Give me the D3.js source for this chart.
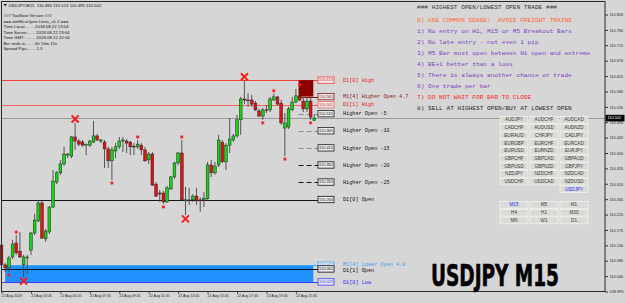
<!DOCTYPE html>
<html><head><meta charset="utf-8">
<script src="https://cdn.jsdelivr.net/npm/d3@7"></script>
<style>
html,body{margin:0;padding:0;background:#d6d6d6;}
svg{display:block;}
</style></head><body>
<svg id="chart" width="625" height="303"></svg>
<script>
// ---------------- DATA ----------------
const titleText = "USDJPY,M15  110.495 110.513 110.495 110.502";
const opens  = [110.131,110.073,110.064,110.096,110.137,110.113,110.073,110.093,110.116,110.166,
                110.201,110.254,110.149,110.169,110.242,110.315,110.342,110.368,110.394,110.391,
                110.447,110.435,110.432,110.423,110.423,110.432,110.450,110.435,110.432,110.412,
                110.377,110.406,110.418,110.435,110.435,110.432,110.420,110.418,110.423,110.409,
                110.380,110.397,110.309,110.283,110.283,110.257,110.295,110.330,110.371,110.400,
                110.260,110.263,110.263,110.274,110.263,110.263,110.266,110.365,110.342,110.365,
                110.432,110.374,110.423,110.438,110.450,110.497,110.558,110.555,110.555,110.546,
                110.523,110.508,110.526,110.526,110.555,110.564,110.546,110.473,110.476,110.526,
                110.549,110.567,110.552,110.529,110.552,110.495];
const highs  = [110.146,110.078,110.099,110.146,110.160,110.169,110.102,110.102,110.169,110.222,
                110.263,110.260,110.178,110.245,110.350,110.347,110.380,110.418,110.400,110.450,
                110.488,110.441,110.438,110.426,110.438,110.494,110.456,110.441,110.438,110.418,
                110.418,110.429,110.447,110.447,110.441,110.435,110.429,110.438,110.429,110.418,
                110.403,110.403,110.315,110.292,110.289,110.304,110.333,110.374,110.403,110.438,
                110.301,110.298,110.280,110.298,110.271,110.286,110.374,110.380,110.374,110.453,
                110.438,110.429,110.502,110.456,110.511,110.564,110.611,110.575,110.570,110.552,
                110.529,110.532,110.540,110.564,110.573,110.567,110.555,110.517,110.535,110.564,
                110.587,110.590,110.564,110.561,110.561,110.513];
const lows   = [110.070,110.052,110.052,110.090,110.102,110.093,110.037,110.046,110.102,110.160,
                110.198,110.149,110.140,110.163,110.239,110.309,110.336,110.362,110.385,110.385,
                110.409,110.420,110.418,110.394,110.418,110.429,110.435,110.429,110.356,110.356,
                110.321,110.385,110.412,110.403,110.400,110.394,110.394,110.412,110.394,110.374,
                110.368,110.304,110.271,110.257,110.251,110.254,110.292,110.324,110.365,110.260,
                110.219,110.248,110.257,110.248,110.228,110.242,110.263,110.330,110.336,110.359,
                110.371,110.350,110.400,110.432,110.444,110.453,110.543,110.535,110.535,110.523,
                110.505,110.497,110.517,110.520,110.552,110.540,110.482,110.391,110.470,110.523,
                110.546,110.552,110.520,110.520,110.497,110.495];
const closes = [110.073,110.064,110.093,110.134,110.108,110.096,110.096,110.096,110.166,110.204,
                110.254,110.151,110.172,110.242,110.318,110.342,110.368,110.397,110.397,110.447,
                110.435,110.426,110.423,110.426,110.435,110.450,110.438,110.438,110.412,110.377,
                110.409,110.418,110.435,110.438,110.429,110.418,110.418,110.426,110.409,110.377,
                110.397,110.306,110.274,110.280,110.257,110.298,110.330,110.371,110.400,110.263,
                110.263,110.260,110.274,110.260,110.260,110.268,110.365,110.342,110.362,110.438,
                110.374,110.423,110.441,110.450,110.497,110.558,110.555,110.554,110.543,110.526,
                110.508,110.526,110.525,110.558,110.564,110.543,110.488,110.488,110.529,110.549,
                110.567,110.555,110.529,110.552,110.505,110.502];
const xLabels    = ["22 Aug 2018","22 Aug 03:45","22 Aug 05:45","22 Aug 07:45","22 Aug 09:45",
                    "22 Aug 11:45","22 Aug 13:45","22 Aug 15:45","22 Aug 17:45","22 Aug 19:45","22 Aug 21:45"];
const xLabelBars = [0,8,16,24,32,40,48,56,64,72,80];
const yTicks = [110.805,110.760,110.715,110.670,110.625,110.580,110.535,110.490,110.445,110.400,
                110.355,110.310,110.265,110.220,110.175,110.130,110.085,110.040,109.995];
const bidPrice = 110.502;
const levelNames  = ["D1[0] High","M1[4] Higher Open 4.7","D1[1] High","Higher Open -5","Higher Open -10",
                     "Higher Open -15","Higher Open -20","Higher Open -25","D1[0] Open",
                     "M1[4] Lower Open 4.8","D1[1] Open","D1[0] Low"];
const levelPrices = [110.613,110.565,110.541,110.515,110.465,110.415,110.365,110.315,110.264,
                     110.072,110.061,110.023];
const upperZone = [110.613, 110.565];  // D1[0] High -> M1[4] Higher Open
const lowerZone = [110.072, 110.023];  // M1[4] Lower Open -> D1[0] Low
const upperZoneStartBar = 81;
const lowerZoneStartBar = 1;
const markerBars  = [6,20,50,66, 2,4,30,37,44,49,71,74,77,81,84];
const markerSides = ["low","high","low","high","low","high","low","high","low","high","low","high","low","high","low"];
const markerBig   = [true,true,true,true,false,false,false,false,false,false,false,false,false,false,false];
const infoLines = ["### TooSlow Version ###","=== amHiLoOpen Lines_v1.2 ===",
                   "Time Local........ 2018.08.22 13:04","Time Server....... 2018.08.22 23:04",
                   "Time GMT.......... 2018.08.22 20:04","Bar ends in....... 0h 10m 15s","Spread Pips....... 1.3"];
const ruleLines = ["### HIGHEST OPEN/LOWEST OPEN TRADE ###",
                   "0) USE COMMON SENSE!  AVOID FREIGHT TRAINS",
                   "1) No entry on H1, M15 or M5 Breakout Bars",
                   "2) No late entry - not even 1 pip",
                   "3) M5 Bar must open between H1 open and extreme",
                   "4) BE+1 better than a loss",
                   "5) There is always another chance or trade",
                   "6) One trade per bar",
                   "7) DO NOT WAIT FOR BAR TO CLOSE",
                   "8) SELL AT HIGHEST OPEN/BUY AT LOWEST OPEN"];
const pairButtons = ["AUDJPY","AUDCHF","AUDCAD","CADCHF","AUDUSD","AUDNZD","EURAUD","CHFJPY","CADJPY",
                     "EURGBP","EURCHF","EURCAD","EURUSD","EURNZD","EURJPY","GBPCHF","GBPCAD","GBPAUD",
                     "GBPUSD","GBPNZD","GBPJPY","NZDJPY","NZDCHF","NZDCAD","USDCHF","USDCAD","NZDUSD",
                     "","","USDJPY"];
const tfButtons = ["M15","M5","M1","H4","H1","M30","MN","W1","D1"];
const activePair = "USDJPY", activeTf = "M15";
const bigLabel = "USDJPY M15";

// ---------------- DRAW ----------------
const svg = d3.select("#chart");
const W = 625, H = 303;
const plotL = 1.5, plotR = 605, plotT = 1.5, plotB = 291.5;
const nBars = opens.length;
const x = d3.scaleLinear().domain([0, nBars - 1]).range([1.5, 1.5 + 3.68 * (nBars - 1)]);
const y = d3.scaleLinear().domain([109.995, 110.805]).range([291.5, 14.5]);
const sans = "'Liberation Sans', Arial, sans-serif";
const mono = "'Liberation Mono', 'DejaVu Sans Mono', monospace";

svg.append("rect").attr("width", W).attr("height", H).attr("fill", "#d6d6d6");

// level styles (by index)
const lvlColor = ["#ff3c3c","#8b1a1a","#ff6060","#8a8a8a","#8a8a8a","#8a8a8a","#151515","#151515","#151515","#3fa9f5","#101028","#3a3aff"];
const lvlText  = ["#e82020","#8b1a1a","#e82020","#111","#111","#111","#111","#111","#111","#3fa0f0","#111","#3030e8"];
const lvlFull  = [true,false,true,false,false,false,false,false,true,false,true,true];
const lvlDash  = [null,null,null,"5,3","5,3","5,3","5,3","5,3",null,null,null,null];
const descNudge = [0,0,0,0,0,0,0,0,0,-1.2,1,0];
const labelX = 318;

// lower blue zone
svg.append("rect")
  .attr("x", x(lowerZoneStartBar)).attr("y", y(lowerZone[0]))
  .attr("width", x(nBars - 1) - 1 - x(lowerZoneStartBar)).attr("height", y(lowerZone[1]) - y(lowerZone[0]))
  .attr("fill", "#1e90ff");

// level lines
levelPrices.forEach((p, i) => {
  const yy = Math.round(y(p)) + 0.5;
  let x0 = lvlFull[i] ? plotL : x(upperZoneStartBar) - 1;
  if (i === 9) x0 = x(lowerZoneStartBar);
  svg.append("line").attr("x1", x0).attr("x2", labelX).attr("y1", yy).attr("y2", yy)
    .attr("stroke", lvlColor[i]).attr("stroke-width", 1)
    .attr("stroke-dasharray", lvlDash[i]);
});

// bid line
svg.append("line").attr("x1", plotL).attr("x2", plotR).attr("y1", Math.round(y(bidPrice)) + 0.5).attr("y2", Math.round(y(bidPrice)) + 0.5)
  .attr("stroke", "#9a9a9a").attr("stroke-width", 1);

// candles
const bars = d3.range(nBars).map(i => ({i, o: opens[i], h: highs[i], l: lows[i], c: closes[i]}));
const cg = svg.append("g");
cg.selectAll("line.wick").data(bars).join("line")
  .attr("x1", d => x(d.i)).attr("x2", d => x(d.i))
  .attr("y1", d => y(d.h)).attr("y2", d => y(d.l))
  .attr("stroke", "#454545").attr("stroke-width", 0.9);
cg.selectAll("rect.body").data(bars).join("rect")
  .attr("x", d => x(d.i) - 1.4)
  .attr("y", d => y(Math.max(d.o, d.c)))
  .attr("width", 2.8)
  .attr("height", d => Math.max(0.8, Math.abs(y(d.o) - y(d.c))))
  .attr("fill", d => d.c >= d.o ? "#14d214" : "#e01414")
  .attr("stroke", "#1a1a1a").attr("stroke-width", 0.45);

// upper dark red zone (drawn over candles)
svg.append("rect")
  .attr("x", x(upperZoneStartBar) - 1).attr("y", y(upperZone[0]))
  .attr("width", x(nBars - 1) - 1 - (x(upperZoneStartBar) - 1)).attr("height", y(upperZone[1]) - y(upperZone[0]))
  .attr("fill", "#8b0000");

// fractal markers
const mk = markerBars.map((b, k) => ({b, side: markerSides[k], big: markerBig[k]}));
svg.selectAll("path.mk").data(mk).join("path")
  .attr("transform", d => {
    const off = d.big ? 4 : 3;
    const yy = d.side === "high" ? y(highs[d.b]) - off : y(lows[d.b]) + off;
    return `translate(${x(d.b)},${yy})`;
  })
  .attr("d", d => d3.symbol(d.big ? d3.symbolTimes : d3.symbolAsterisk, d.big ? 34 : 9)())
  .attr("fill", "none").attr("stroke", "#ff1a1a").attr("stroke-width", d => d.big ? 2 : 1);

// level label boxes + descriptions
levelPrices.forEach((p, i) => {
  const yy = y(p);
  svg.append("rect").attr("x", labelX).attr("y", yy - 3.2).attr("width", 16).attr("height", 6.4)
    .attr("fill", "#e9e9e9").attr("stroke", lvlColor[i] === "#8a8a8a" ? "#202020" : lvlColor[i]).attr("stroke-width", 0.8);
  svg.append("text").attr("x", labelX + 8).attr("y", yy + 0.2).attr("text-anchor", "middle")
    .attr("dominant-baseline", "middle").attr("font-family", sans).attr("font-size", 3.9)
    .attr("fill", lvlText[i]).text(d3.format(".3f")(p));
  svg.append("text").attr("x", 343).attr("y", yy + 0.3 + descNudge[i]).attr("dominant-baseline", "middle")
    .attr("font-family", mono).attr("font-size", 5.2).attr("fill", lvlText[i]).text(levelNames[i]);
});

// frame
svg.append("rect").attr("x", plotL).attr("y", plotT).attr("width", plotR - plotL).attr("height", plotB - plotT)
  .attr("fill", "none").attr("stroke", "#2a2a2a").attr("stroke-width", 1);

// y axis
const yAxis = d3.axisRight(y).tickValues(yTicks).tickFormat(d3.format(".3f")).tickSize(3).tickPadding(1.5);
const ya = svg.append("g").attr("transform", `translate(${plotR},0)`).call(yAxis);
ya.select(".domain").remove();
ya.selectAll("line").attr("stroke", "#333");
ya.selectAll("text").attr("font-family", sans).attr("font-size", 3.9).attr("fill", "#222");

// current price box
const by = y(bidPrice);
svg.append("rect").attr("x", plotR + 0.5).attr("y", by - 3.3).attr("width", 19).attr("height", 6.6).attr("fill", "#000");
svg.append("text").attr("x", plotR + 2.5).attr("y", by + 0.2).attr("dominant-baseline", "middle")
  .attr("font-family", sans).attr("font-size", 3.9).attr("fill", "#fff").text(d3.format(".3f")(bidPrice));

// x axis
const xAxis = d3.axisBottom(x).tickValues(xLabelBars).tickFormat((d, k) => xLabels[k]).tickSize(2).tickPadding(1);
const xa = svg.append("g").attr("transform", `translate(0,${plotB})`).call(xAxis);
xa.select(".domain").remove();
xa.selectAll("line").attr("stroke", "#333");
xa.selectAll("text").attr("text-anchor", "start").attr("dx", -0.5).attr("font-family", sans)
  .attr("font-size", 3.6).attr("fill", "#222");

// title
svg.append("path").attr("d", "M3.5,4 L7,4 L5.25,6.3 Z").attr("fill", "#111");
svg.append("text").attr("x", 8.5).attr("y", 5.5).attr("dominant-baseline", "middle")
  .attr("font-family", sans).attr("font-size", 4.3).attr("fill", "#111").attr("xml:space", "preserve").text(titleText);

// info block
svg.selectAll("text.info").data(infoLines).join("text")
  .attr("x", 3.5).attr("y", (d, k) => 16.2 + k * 5.45).attr("dominant-baseline", "middle")
  .attr("font-family", sans).attr("font-size", 4.3).attr("fill", "#111").text(d => d);

// rules
const ruleColor = ["#383838","#ff6633","#7a3fc4","#7a3fc4","#7a3fc4","#7a3fc4","#7a3fc4","#7a3fc4","#ff1e1e","#2a2a2a"];
svg.selectAll("text.rule").data(ruleLines).join("text")
  .attr("x", 417).attr("y", (d, k) => k === 0 ? 7.6 : 20 + (k - 1) * 11.05).attr("dominant-baseline", "middle")
  .attr("font-family", mono).attr("font-size", 6.15).attr("fill", (d, k) => ruleColor[k])
  .attr("xml:space", "preserve").text(d => d);

// buttons
function buttons(list, top, active) {
  list.forEach((t, k) => {
    if (!t) return;
    const col = k % 3, row = Math.floor(k / 3);
    const bx = 500 + col * 30, byy = top + row * 7.7;
    svg.append("rect").attr("x", bx).attr("y", byy - 3.4).attr("width", 28).attr("height", 6.8)
      .attr("fill", "#dadad6").attr("stroke", "#f4f4ee").attr("stroke-width", 0.7);
    svg.append("text").attr("x", bx + 14).attr("y", byy + 0.2).attr("text-anchor", "middle")
      .attr("dominant-baseline", "middle").attr("font-family", sans).attr("font-size", 4.6)
      .attr("fill", t === active ? "#2a2aff" : "#3a3a3a").text(t);
  });
}
buttons(pairButtons, 120, activePair);
buttons(tfButtons, 205, activeTf);

// big symbol label (scaled horizontally to the target width)
const big = svg.append("text").attr("x", 0).attr("y", 0)
  .attr("font-family", "'Liberation Sans Narrow', 'DejaVu Sans Condensed', sans-serif")
  .attr("font-weight", "bold").attr("font-size", 31).attr("fill", "#000")
  .attr("stroke", "#000").attr("stroke-width", 0.6).text(bigLabel);
const natural = big.node().getComputedTextLength();
big.attr("transform", `translate(431,286) scale(${128 / natural},1)`);
</script>
</body></html>
